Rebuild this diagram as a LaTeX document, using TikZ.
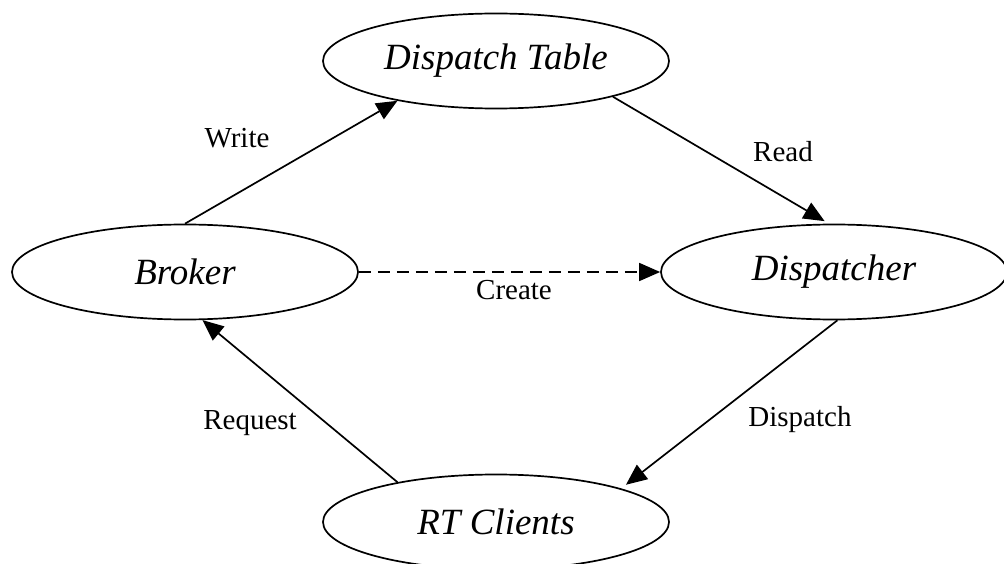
\documentclass[tikz,border=0pt]{standalone}
\usepackage{fontspec}
\setmainfont{Liberation Serif}
\usetikzlibrary{shapes.geometric,arrows.meta}
\begin{document}
\begin{tikzpicture}[x=1pt,y=-1pt,
  state/.style={ellipse,draw,line width=1.7pt,minimum width=346pt,minimum height=95pt,
    inner sep=0pt,font=\fontsize{37}{40}\selectfont\itshape},
  lbl/.style={inner sep=0pt,font=\fontsize{29}{32}\selectfont},
  flow/.style={line width=1.7pt,-{Triangle[length=21pt,width=18pt]}},
  dashflow/.style={flow,dash pattern=on 12pt off 7pt}]
\useasboundingbox (0,0) rectangle (1004,564);
% the four components
\node[state] (table)  at (496,61)  {Dispatch Table};
\node[state] (broker) at (185,272) {Broker};
\node[state] (disp)   at (834,272) {Dispatcher};
\node[state] (rt)     at (496,522) {RT Clients};
% interactions
\draw[flow] (broker.north) -- (table.202);
\draw[flow,shorten >=5pt] (table.-17) -- (disp.96);
\draw[dashflow] (broker.east) -- (disp.west);
\draw[flow,shorten >=6pt] (disp.-86) -- (rt.15);
\draw[flow] (rt.158) -- (broker.-70);
% labels
\node[lbl] (lwrite)    at (237,138) {Write};
\node[lbl] (lread)     at (783,152) {Read};
\node[lbl] (lcreate)   at (514,290) {Create};
\node[lbl] (lrequest)  at (250,423) {Request};
\node[lbl] (ldispatch) at (800,420) {Dispatch};
\end{tikzpicture}
\end{document}
